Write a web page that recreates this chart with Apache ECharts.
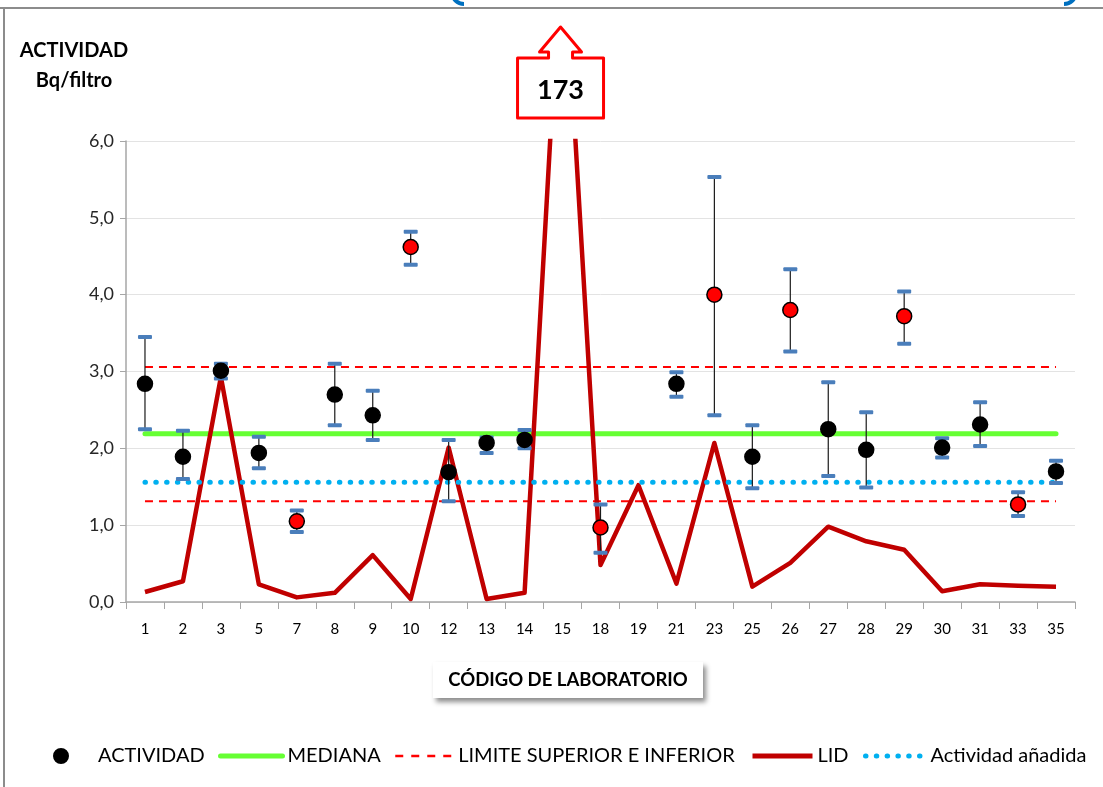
<!DOCTYPE html>
<html>
<head>
<meta charset="utf-8">
<script src="https://cdn.jsdelivr.net/npm/echarts@6/dist/echarts.min.js"></script>
<style>
  html, body { margin: 0; padding: 0; background: #fff; }
  #main { width: 1103px; height: 787px; }
</style>
</head>
<body>
<div id="main"></div>
<script>
const labs = ['1', '2', '3', '5', '7', '8', '9', '10', '12', '13', '14', '15', '18', '19', '21', '23', '25', '26', '27', '28', '29', '30', '31', '33', '35']
const actividad = [2.84, 1.89, 3.01, 1.94, 1.05, 2.70, 2.43, 4.62, 1.69, 2.07, 2.11, 173, 0.97, null, 2.84, 4.00, 1.89, 3.80, 2.25, 1.98, 3.72, 2.01, 2.31, 1.27, 1.70]
const errHigh = [3.45, 2.23, 3.10, 2.15, 1.19, 3.10, 2.75, 4.82, 2.11, 2.14, 2.24, null, 1.27, null, 2.99, 5.53, 2.30, 4.33, 2.86, 2.47, 4.04, 2.13, 2.60, 1.43, 1.84]
const errLow = [2.25, 1.60, 2.91, 1.74, 0.91, 2.30, 2.11, 4.39, 1.31, 1.94, 2.00, null, 0.64, null, 2.67, 2.43, 1.48, 3.26, 1.64, 1.49, 3.36, 1.88, 2.03, 1.12, 1.55]
const lid = [0.13, 0.27, 2.93, 0.23, 0.06, 0.12, 0.61, 0.04, 2.01, 0.04, 0.12, 8.85, 0.48, 1.52, 0.24, 2.07, 0.20, 0.51, 0.98, 0.79, 0.68, 0.14, 0.23, 0.21, 0.20]
const mediana = 2.19
const limiteSup = 3.06
const limiteInf = 1.31
const actividadAnadida = 1.56
const yTicks = [0, 1, 2, 3, 4, 5, 6]

const FONT = 'Lato, "Open Sans", sans-serif'
const firstLab = labs[0]
const lastLab = labs[labs.length - 1]

// lab whose value is off the scale gets the arrow box
const offIdx = actividad.findIndex(v => v !== null && v > yTicks[yTicks.length - 1])

const chart = echarts.init(document.getElementById('main'))

const errData = labs
  .map((lab, i) => [i, errLow[i], errHigh[i]])
  .filter(d => d[1] !== null && d[2] !== null)

const pointData = labs.map((lab, i) => {
  const v = actividad[i]
  if (v === null) return '-'
  const fuera = v > limiteSup || v < limiteInf
  return { value: v, itemStyle: { color: fuera ? '#FF0000' : '#000000' } }
})

const legendBase = {
  top: 741,
  itemHeight: 14,
  textStyle: { color: '#000', fontSize: 20, fontFamily: FONT },
  selectedMode: false
}
// line legends: hide the little symbol, keep the line
const lineLegend = { ...legendBase, itemStyle: { opacity: 0 } }

const option = {
  animation: false,
  backgroundColor: '#fff',
  grid: { left: 126, right: 28, top: 141, bottom: 185, outerBoundsMode: 'none' },
  legend: [
    { ...legendBase, data: ['ACTIVIDAD'], left: 48, itemWidth: 64, itemStyle: { opacity: 1 } },
    { ...lineLegend, data: ['MEDIANA'], left: 213, itemWidth: 62, lineStyle: { width: 5 } },
    { ...lineLegend, data: ['LIMITE SUPERIOR E INFERIOR'], left: 389, itemWidth: 58, lineStyle: { width: 2.5, type: [8, 8] } },
    { ...lineLegend, data: ['LID'], left: 745, itemWidth: 60, lineStyle: { width: 5 } },
    { ...lineLegend, data: ['Actividad añadida'], left: 858, itemWidth: 60, lineStyle: { width: 5, type: [0.5, 10.3], cap: 'round' } }
  ],
  xAxis: {
    type: 'category',
    data: labs,
    boundaryGap: true,
    axisLine: { show: true, lineStyle: { color: '#A6A6A6', width: 1.5 } },
    axisTick: { show: true, length: 7, lineStyle: { color: '#A6A6A6' } },
    axisLabel: { color: '#000', fontSize: 15, margin: 20, fontFamily: FONT },
    splitLine: { show: false }
  },
  yAxis: {
    type: 'value',
    min: yTicks[0],
    max: yTicks[yTicks.length - 1],
    interval: 1,
    axisLine: { show: true, lineStyle: { color: '#A6A6A6', width: 1.5 } },
    axisTick: { show: true, length: 6, lineStyle: { color: '#A6A6A6' } },
    axisLabel: {
      color: '#262626', fontSize: 18, margin: 12, fontFamily: FONT,
      formatter: v => v.toFixed(1).replace('.', ',')
    },
    splitLine: { lineStyle: { color: '#E3E3E3', width: 1 } }
  },
  series: [
    {
      name: 'MEDIANA',
      type: 'line',
      symbol: 'none',
      data: [[firstLab, mediana], [lastLab, mediana]],
      lineStyle: { color: '#66FF33', width: 5, cap: 'round' },
      itemStyle: { color: '#66FF33' },
      z: 2
    },
    {
      name: 'LIMITE SUPERIOR E INFERIOR',
      type: 'line',
      symbol: 'none',
      data: [[firstLab, limiteSup], [lastLab, limiteSup]],
      lineStyle: { color: '#FF0000', width: 2, type: [8, 6] },
      itemStyle: { color: '#FF0000' },
      z: 2
    },
    {
      name: 'LIMITE SUPERIOR E INFERIOR',
      type: 'line',
      symbol: 'none',
      data: [[firstLab, limiteInf], [lastLab, limiteInf]],
      lineStyle: { color: '#FF0000', width: 2, type: [8, 6] },
      itemStyle: { color: '#FF0000' },
      z: 2
    },
    {
      name: 'LID',
      type: 'line',
      symbol: 'none',
      data: lid,
      clip: true,
      lineStyle: { color: '#C00000', width: 4.5, join: 'round' },
      itemStyle: { color: '#C00000' },
      z: 3
    },
    {
      name: 'Actividad añadida',
      type: 'line',
      symbol: 'none',
      data: [[firstLab, actividadAnadida], [lastLab, actividadAnadida]],
      lineStyle: { color: '#00B0F0', width: 5, type: [0.5, 10.3], cap: 'round' },
      itemStyle: { color: '#00B0F0' },
      z: 4
    },
    {
      name: 'error',
      type: 'custom',
      data: errData,
      z: 5,
      renderItem: (params, api) => {
        const lo = api.coord([api.value(0), api.value(1)])
        const hi = api.coord([api.value(0), api.value(2)])
        const capW = 14
        const capH = 4
        return {
          type: 'group',
          children: [
            { type: 'line', shape: { x1: lo[0], y1: lo[1], x2: hi[0], y2: hi[1] }, style: { stroke: '#1a1a1a', lineWidth: 1.2 } },
            { type: 'rect', shape: { x: hi[0] - capW / 2, y: hi[1] - capH / 2, width: capW, height: capH, r: 1 }, style: { fill: '#4A7EBB' } },
            { type: 'rect', shape: { x: lo[0] - capW / 2, y: lo[1] - capH / 2, width: capW, height: capH, r: 1 }, style: { fill: '#4A7EBB' } }
          ]
        }
      }
    },
    {
      name: 'ACTIVIDAD',
      type: 'scatter',
      data: pointData,
      symbol: 'circle',
      symbolSize: 15,
      clip: true,
      itemStyle: { color: '#000', borderColor: '#000', borderWidth: 1.5, opacity: 1 },
      z: 6
    }
  ]
}

chart.setOption(option)

// annotation for the off-scale value, the axis titles and the frame
const offX = chart.convertToPixel({ xAxisIndex: 0 }, labs[offIdx]) - 2
const arrow = [[-43, 118], [-43, 58], [-12, 58], [-12, 52], [-21, 52], [0, 27], [21, 52], [12, 52], [12, 58], [43, 58], [43, 118]]
  .map(p => [offX + p[0], p[1]])

chart.setOption({
  graphic: [
    { type: 'line', shape: { x1: 0, y1: 8, x2: 1103, y2: 8 }, style: { stroke: '#8C8C8C', lineWidth: 2 } },
    { type: 'line', shape: { x1: 4, y1: 8, x2: 4, y2: 787 }, style: { stroke: '#8C8C8C', lineWidth: 2 } },
    { type: 'arc', shape: { cx: 464, cy: -8, r: 12, startAngle: Math.PI / 2, endAngle: Math.PI }, style: { stroke: '#0070C0', lineWidth: 4, fill: null } },
    { type: 'arc', shape: { cx: 1064, cy: -8, r: 12, startAngle: 0, endAngle: Math.PI / 2 }, style: { stroke: '#0070C0', lineWidth: 4, fill: null } },
    {
      type: 'text', x: 74, y: 51,
      style: { text: 'ACTIVIDAD', fill: '#000', font: 'bold 20px ' + FONT, align: 'center', verticalAlign: 'middle' }
    },
    {
      type: 'text', x: 74, y: 81,
      style: { text: 'Bq/filtro', fill: '#000', font: 'bold 20px ' + FONT, align: 'center', verticalAlign: 'middle' }
    },
    { type: 'polygon', shape: { points: arrow }, style: { fill: '#fff', stroke: '#FF0000', lineWidth: 3, lineJoin: 'round' }, z: 10 },
    {
      type: 'text', x: offX, y: 90, z: 11,
      style: { text: String(actividad[offIdx]), fill: '#000', font: 'bold 27px ' + FONT, align: 'center', verticalAlign: 'middle' }
    },
    {
      type: 'rect', shape: { x: 433, y: 662, width: 270, height: 36 },
      style: { fill: '#fff', shadowBlur: 5, shadowColor: 'rgba(0,0,0,0.45)', shadowOffsetX: 3, shadowOffsetY: 4 }
    },
    {
      type: 'text', x: 568, y: 680,
      style: { text: 'CÓDIGO DE LABORATORIO', fill: '#000', font: 'bold 18.5px ' + FONT, align: 'center', verticalAlign: 'middle' }
    }
  ]
})
</script>
</body>
</html>
